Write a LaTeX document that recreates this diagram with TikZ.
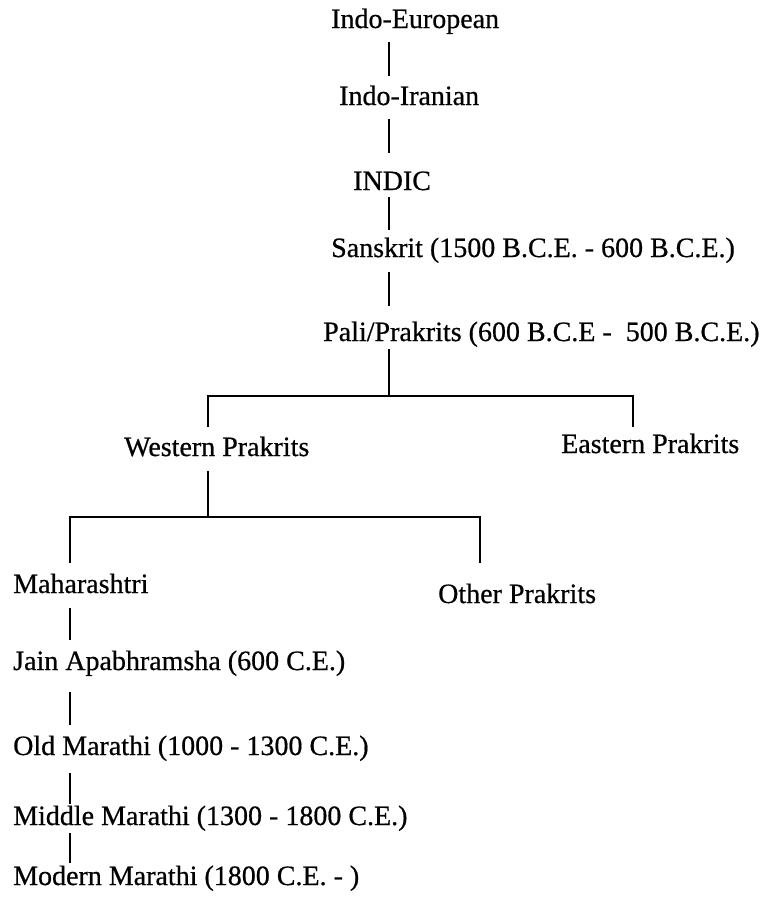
\documentclass[tikz,border=0pt]{standalone}
\usepackage{fontspec}
\setmainfont{Liberation Serif}
\newfontfamily\langfont{Liberation Serif}[UprightFeatures={FakeBold=0.6}]
\frenchspacing

\begin{document}
\begin{tikzpicture}[x=1pt, y=-1pt,
  lang/.style={anchor=base west, inner sep=0pt, text height=19pt, text depth=6pt, font=\langfont\fontsize{28}{33}\selectfont},
  link/.style={line width=2.9pt}]
\useasboundingbox (0,0) rectangle (763,897);
% main line
\node[lang] (ie) at (331,28) {Indo-European};
\node[lang] (ii) at (339,105) {Indo-Iranian};
\node[lang] (indic) at (353,190) {INDIC};
\node[lang] (skt) at (331,257) {Sanskrit (1500 B.C.E. - 600 B.C.E.)};
\node[lang] (pali) at (323,341) {Pali/Prakrits (600 B.C.E -\ \ 500 B.C.E.)};
\node[lang] (wp) at (124,456) {Western Prakrits};
\node[lang] (ep) at (561,453) {Eastern Prakrits};
\node[lang] (mah) at (13,593) {Maharashtri};
\node[lang] (op) at (438,603) {Other Prakrits};
\node[lang] (jain) at (13,670) {Jain Apabhramsha (600 C.E.)};
\node[lang] (old) at (13,755) {Old Marathi (1000 - 1300 C.E.)};
\node[lang] (mid) at (13,825) {Middle Marathi (1300 - 1800 C.E.)};
\node[lang] (mod) at (13,885) {Modern Marathi (1800 C.E. - )};
\coordinate (trunk) at (389,0);
\coordinate (w1) at (208,396); \coordinate (fork1) at (389,396); \coordinate (e1) at (633,396);
\coordinate (m1) at (70,517); \coordinate (fork2) at (208,517); \coordinate (o1) at (480,517);
\draw[link, shorten <=8pt, shorten >=10pt] (ie.south -| trunk) -- (ii.north -| trunk);
\draw[link, shorten <=8pt, shorten >=18pt] (ii.south -| trunk) -- (indic.north -| trunk);
\draw[link, shorten <=1pt, shorten >=8pt] (indic.south -| trunk) -- (skt.north -| trunk);
\draw[link, shorten <=9pt, shorten >=16pt] (skt.south -| trunk) -- (pali.north -| trunk);
% first split
\draw[link, shorten <=2pt] (pali.south -| fork1) -- (fork1);
\draw[link, shorten <=10pt, shorten >=7pt] (wp.north -| w1) -- (w1) -- (e1) -- (ep.north -| e1);
% second split
\draw[link, shorten <=9pt] (wp.south -| fork2) -- (fork2);
\draw[link, shorten <=11pt, shorten >=21pt] (mah.north -| m1) -- (m1) -- (o1) -- (op.north -| o1);
% marathi line
\draw[link, shorten <=9pt, shorten >=11pt] (mah.south -| m1) -- (jain.north -| m1);
\draw[link, shorten <=16pt, shorten >=11pt] (jain.south -| m1) -- (old.north -| m1);
\draw[link, shorten <=12pt, shorten >=2pt] (old.south -| m1) -- (mid.north -| m1);
\draw[link, shorten <=2pt, shorten >=3pt] (mid.south -| m1) -- (mod.north -| m1);
\end{tikzpicture}
\end{document}
